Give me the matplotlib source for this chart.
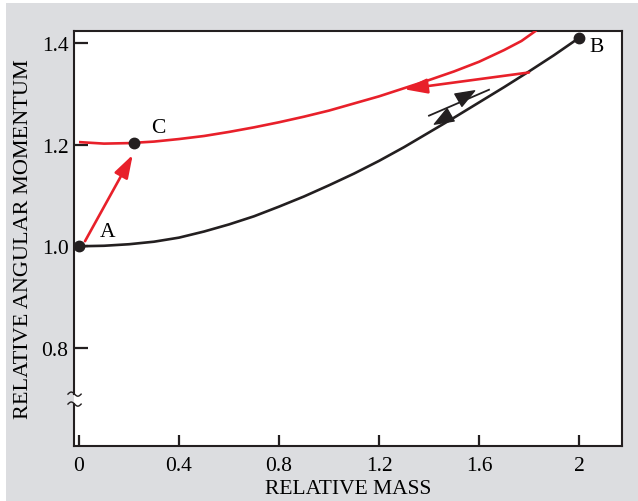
import numpy as np
import matplotlib
matplotlib.use("Agg")
from matplotlib import pyplot as plt
from matplotlib.patches import Rectangle
from matplotlib.markers import MarkerStyle
from matplotlib.path import Path

matplotlib.rcParams.update({'font.size': 15.5, 'font.family': 'Liberation Serif'})

# ------------------------------- data -------------------------------------
mass_black = [0.0, 0.1, 0.2, 0.3, 0.4, 0.5, 0.6, 0.7, 0.8, 0.9, 1.0,
              1.1, 1.2, 1.3, 1.4, 1.5, 1.6, 1.7, 1.8, 1.9, 2.0]
mom_black = [1.000, 1.001, 1.004, 1.009, 1.017, 1.029, 1.043, 1.059, 1.078, 1.098, 1.120,
             1.143, 1.168, 1.195, 1.224, 1.253, 1.283, 1.313, 1.344, 1.376, 1.410]

mass_red = [0.0, 0.1, 0.2, 0.3, 0.4, 0.5, 0.6, 0.7, 0.8, 0.9, 1.0,
            1.1, 1.2, 1.3, 1.4, 1.5, 1.6, 1.7, 1.77, 1.83]
mom_red = [1.205, 1.202, 1.203, 1.206, 1.211, 1.217, 1.225, 1.234, 1.244, 1.255, 1.267,
           1.281, 1.295, 1.311, 1.327, 1.344, 1.363, 1.386, 1.404, 1.425]

point_A = (0.0, 1.0)
point_B = (2.0, 1.41)
point_C = (0.22, 1.203)

arrow_AC = [(0.024, 1.010), (0.215, 1.180)]
arrow_B_red = [(1.80, 1.342), (1.30, 1.309)]
pair_line = [(1.40, 1.257), (1.64, 1.308)]
head_up = (1.548, 1.298)
head_down = (1.452, 1.251)

xticks = [0, 0.4, 0.8, 1.2, 1.6, 2.0]
xticklabels = ['0', '0.4', '0.8', '1.2', '1.6', '2']
yticks = [0.8, 1.0, 1.2, 1.4]
yticklabels = ['0.8', '1.0', '1.2', '1.4']

RED = '#e8202a'
BLACK = '#231f20'
GRAY = '#dcdde0'

# ------------------------------- figure -----------------------------------
fig = plt.figure(figsize=(6.38, 5.02), dpi=100)
fig.patch.set_facecolor('white')
fig.patches.append(Rectangle((6/638., 0), 1, 1 - 4/502., transform=fig.transFigure,
                             facecolor=GRAY, edgecolor='none', zorder=-10))

ax = fig.add_axes([74/638., 1 - 447/502., (622-74)/638., (447-32)/502.])
ax.set_facecolor('white')

ax.plot(mass_black, mom_black, color=BLACK, lw=1.9, solid_capstyle='butt', zorder=3)
ax.plot(mass_red, mom_red, color=RED, lw=1.9, solid_capstyle='butt', zorder=3)

for p in [point_A, point_B, point_C]:
    ax.plot(p[0], p[1], 'o', color=BLACK, markersize=7.5, zorder=5, clip_on=False)

ax.text(0.116, 1.030, 'A', ha='center', va='center')
ax.text(2.071, 1.393, 'B', ha='center', va='center')
ax.text(0.316, 1.234, 'C', ha='center', va='center')

def arrow(seg, color, lw=1.9, hl=1.4, hw=0.45):
    ax.annotate('', xy=seg[1], xytext=seg[0],
                arrowprops=dict(arrowstyle='-|>,head_length=%g,head_width=%g' % (hl, hw),
                                color=color, lw=lw, shrinkA=0, shrinkB=0,
                                mutation_scale=10))

arrow(arrow_AC, RED)
arrow(arrow_B_red, RED)

# double arrow beside the black curve
ax.plot([pair_line[0][0], pair_line[1][0]], [pair_line[0][1], pair_line[1][1]],
        color=BLACK, lw=1.3)
tri = Path([(0.5, 0), (-0.5, 0.38), (-0.5, -0.38), (0.5, 0)],
           [Path.MOVETO, Path.LINETO, Path.LINETO, Path.CLOSEPOLY])
ax.plot(*head_up, marker=MarkerStyle(tri).rotated(deg=30), markersize=13.5,
        color=BLACK, linestyle='none')
ax.plot(*head_down, marker=MarkerStyle(tri).rotated(deg=210), markersize=13.5,
        color=BLACK, linestyle='none')

ax.set_xlim(-0.02, 2.172)
ax.set_ylim(0.607, 1.4236)
ax.set_xticks(xticks)
ax.set_xticklabels(xticklabels)
ax.set_yticks(yticks)
ax.set_yticklabels(yticklabels)
ax.tick_params(axis='x', direction='in', length=8, width=1.6, pad=7, color=BLACK)
ax.tick_params(axis='y', direction='in', length=10, width=1.6, pad=4, color=BLACK)

for s in ['top', 'right', 'bottom']:
    ax.spines[s].set_linewidth(1.5)
    ax.spines[s].set_color(BLACK)
ax.spines['left'].set_visible(False)

# left spine with axis break
ax.plot([0, 0], [0, 0.101], transform=ax.transAxes, color=BLACK, lw=1.5, clip_on=False)
ax.plot([0, 0], [0.125, 1], transform=ax.transAxes, color=BLACK, lw=1.5, clip_on=False)
t = np.linspace(0, 1, 30)
for yb in [0.101, 0.125]:
    ax.plot(-0.011 + 0.024*t, yb + 0.005*np.sin(2*np.pi*t), transform=ax.transAxes,
            color=BLACK, lw=1.0, clip_on=False)

ax.set_xlabel('RELATIVE MASS', labelpad=3)
ax.set_ylabel('RELATIVE ANGULAR MOMENTUM', labelpad=6, fontsize=16)

fig.savefig('out.png', dpi=100)
